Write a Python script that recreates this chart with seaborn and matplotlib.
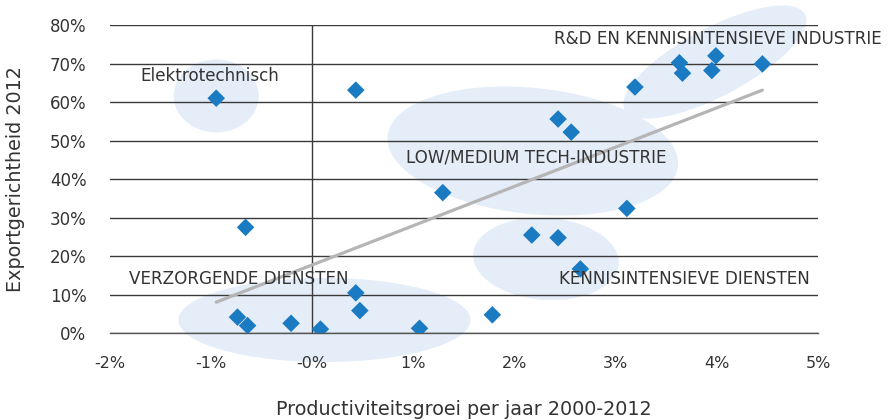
#!/usr/bin/env python3

# Scatter: productiviteitsgroei vs exportgerichtheid per sector, met trendlijn.

import matplotlib
matplotlib.use("Agg")
import matplotlib.pylab as plt
from matplotlib.patches import Ellipse
from matplotlib.transforms import ScaledTranslation
import numpy as np
import pandas
import seaborn as sns

# productiviteitsgroei per jaar (%)
groei = [-0.95, 0.43, 1.29, 3.63, 3.66, 3.99, 3.95, 4.45, 3.19, 2.43, 2.56, 3.11,
         2.17, 2.43, 2.65, 1.78, -0.66, -0.74, -0.64, -0.21, 0.08, 0.43, 0.47, 1.06]
# exportgerichtheid 2012 (%)
export = [61.0, 63.1, 36.5, 70.2, 67.5, 72.0, 68.2, 69.9, 63.9, 55.6, 52.2, 32.4,
          25.5, 24.8, 16.7, 4.8, 27.5, 4.2, 2.0, 2.6, 1.1, 10.5, 5.9, 1.3]

xticks = [-2, -1, 0, 1, 2, 3, 4, 5]
xticklabels = ["-2%", "-1%", "-0%", "1%", "2%", "3%", "4%", "5%"]
yticks = [0, 10, 20, 30, 40, 50, 60, 70, 80]
yticklabels = [f"{v}%" for v in yticks]

# groepen: label, label-positie (x, y), centrum ellips (x, y), breedte/hoogte (px), hoek
groep_labels = ["Elektrotechnisch", "R&D EN KENNISINTENSIEVE INDUSTRIE",
                "LOW/MEDIUM TECH-INDUSTRIE", "KENNISINTENSIEVE DIENSTEN",
                "VERZORGENDE DIENSTEN"]
label_x = [-1.01, 2.39, 0.93, 2.44, -1.81]
label_y = [66.7, 76.4, 45.5, 14.1, 14.1]
label_ha = ["center", "left", "left", "left", "left"]
ellips_x = [-0.95, 3.98, 2.18, 2.31, 0.12]
ellips_y = [61.6, 70.4, 47.3, 19.3, 3.45]
ellips_w = [85, 204, 292, 146, 292]
ellips_h = [73, 68, 126, 82, 84]
ellips_hoek = [0, 28, -6, -4, 0]

df = pandas.DataFrame({"groei": groei, "export": export})

sns.set_theme(style="white")
plt.rcParams["font.family"] = ["DejaVu Sans"]

tekst = "#333333"
fig = plt.figure(figsize=(8.88, 4.2), dpi=100)
ax = fig.add_axes([0.1239, 0.2064, 0.7973, 0.7341])

for cx, cy, w, h, a in zip(ellips_x, ellips_y, ellips_w, ellips_h, ellips_hoek):
    # size in inches, centred on data point, so the shape keeps its aspect
    trans = fig.dpi_scale_trans + ScaledTranslation(cx, cy, ax.transData)
    e = Ellipse((0, 0), w / 100, h / 100, angle=a, transform=trans,
                facecolor="#e4edf8", edgecolor="none", zorder=0.2, clip_on=False)
    ax.add_patch(e)

ax.set_axisbelow(True)
ax.grid(axis="y", color="#3a3a3a", linewidth=1.0)
ax.grid(axis="x", visible=False)
ax.axvline(0, color="#3a3a3a", linewidth=1.0, zorder=1)

# trendlijn (lineaire fit)
coef = np.polyfit(groei, export, 1)
xs = np.array([min(groei), max(groei)])
ax.plot(xs, np.polyval(coef, xs), color="#b5b5b5", linewidth=2.3, zorder=2)

sns.scatterplot(data=df, x="groei", y="export", marker="D", s=80,
                color="#1b7bc2", edgecolor="none", ax=ax, zorder=3)

for lab, lx, ly, ha in zip(groep_labels, label_x, label_y, label_ha):
    ax.text(lx, ly, lab, ha=ha, va="center", fontsize=12.1, color=tekst,
            zorder=4, clip_on=False)

ax.set_xlim(-2, 5)
ax.set_ylim(0, 80)
ax.set_xticks(xticks)
ax.set_xticklabels(xticklabels, fontsize=11.5, color=tekst)
ax.set_yticks(yticks)
ax.set_yticklabels(yticklabels, fontsize=12, color=tekst)
ax.tick_params(axis="x", direction="out", length=6, width=1, color="#888888", pad=10)
ax.tick_params(axis="y", length=0, pad=17)

for side in ["top", "right", "left"]:
    ax.spines[side].set_visible(False)
ax.spines["bottom"].set_color("#555555")
ax.spines["bottom"].set_linewidth(1.0)

ax.set_xlabel("Productiviteitsgroei per jaar 2000-2012", fontsize=13.8,
              color=tekst, labelpad=21)
ax.set_ylabel("Exportgerichtheid 2012", fontsize=13.8, color=tekst, labelpad=18)

fig.savefig("out.png", dpi=100)
